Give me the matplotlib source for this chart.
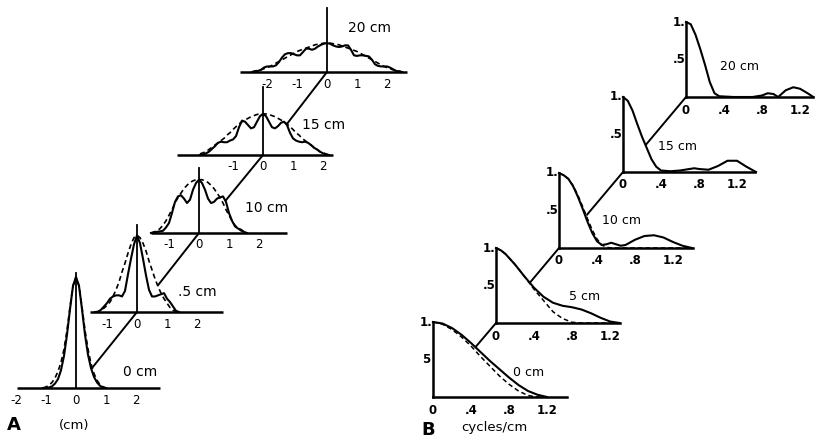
import numpy as np
import matplotlib
matplotlib.use("Agg")
import matplotlib.pyplot as plt
from matplotlib.transforms import offset_copy
from matplotlib.patches import ConnectionPatch

# ---------------- DATA : panel A (line spread, relative intensity vs cm) ----------------
a_names = ["0 cm", ".5 cm", "10 cm", "15 cm", "20 cm"]

a0_x = [-1.1, -1.0, -0.9, -0.8, -0.7, -0.6, -0.5, -0.4, -0.3, -0.2, -0.1, 0.0,
        0.1, 0.2, 0.3, 0.4, 0.5, 0.6, 0.7, 0.8, 0.9, 1.0]
a0_solid = [0, 0, 0.005, 0.015, 0.04, 0.08, 0.16, 0.29, 0.48, 0.71, 0.92, 1.0,
            0.92, 0.71, 0.48, 0.30, 0.18, 0.10, 0.05, 0.02, 0.005, 0]
a0_dash = [0, 0.01, 0.025, 0.05, 0.09, 0.15, 0.23, 0.35, 0.52, 0.73, 0.92, 1.0,
           0.92, 0.73, 0.52, 0.35, 0.22, 0.13, 0.07, 0.03, 0.01, 0]

a1_x = [-1.4, -1.3, -1.2, -1.1, -1.0, -0.9, -0.8, -0.7, -0.6, -0.5, -0.4, -0.3, -0.2, -0.1, 0.0,
        0.1, 0.2, 0.3, 0.4, 0.5, 0.6, 0.7, 0.8, 0.9, 1.0, 1.1, 1.2, 1.3, 1.4]
a1_solid = [0, 0.0, 0.02, 0.05, 0.08, 0.12, 0.14, 0.15, 0.15, 0.14, 0.19, 0.34, 0.48, 0.61, 0.69,
            0.62, 0.48, 0.33, 0.20, 0.14, 0.14, 0.15, 0.16, 0.17, 0.12, 0.09, 0.05, 0.01, 0]
a1_dash = [0, 0.005, 0.02, 0.035, 0.06, 0.09, 0.14, 0.20, 0.27, 0.36, 0.44, 0.53, 0.61, 0.67, 0.69,
           0.67, 0.62, 0.55, 0.46, 0.38, 0.30, 0.23, 0.17, 0.12, 0.08, 0.04, 0.015, 0.005, 0]

a2_x = [-1.6, -1.5, -1.4, -1.3, -1.2, -1.1, -1.0, -0.9, -0.8, -0.7, -0.6, -0.5, -0.4, -0.3, -0.2, -0.1, 0.0,
        0.1, 0.2, 0.3, 0.4, 0.5, 0.6, 0.7, 0.8, 0.9, 1.0, 1.1, 1.2, 1.3, 1.4, 1.5, 1.6]
a2_solid = [0, 0.005, 0.01, 0.015, 0.02, 0.05, 0.09, 0.18, 0.28, 0.33, 0.34, 0.31, 0.27, 0.30, 0.39, 0.45, 0.48,
            0.45, 0.39, 0.31, 0.27, 0.28, 0.31, 0.32, 0.33, 0.28, 0.18, 0.11, 0.06, 0.04, 0.03, 0.01, 0]
a2_dash = [0, 0.01, 0.02, 0.04, 0.07, 0.11, 0.16, 0.21, 0.27, 0.32, 0.36, 0.40, 0.43, 0.455, 0.47, 0.48, 0.48,
           0.48, 0.47, 0.455, 0.43, 0.40, 0.36, 0.32, 0.27, 0.21, 0.16, 0.11, 0.07, 0.04, 0.02, 0.01, 0]

a3_x = [-2.1, -2.0, -1.9, -1.8, -1.7, -1.6, -1.5, -1.4, -1.3, -1.2, -1.1, -1.0, -0.9, -0.8, -0.7, -0.6,
        -0.5, -0.4, -0.3, -0.2, -0.1, 0.0, 0.1, 0.2, 0.3, 0.4, 0.5, 0.6, 0.7, 0.8, 0.9, 1.0, 1.1, 1.2,
        1.3, 1.4, 1.5, 1.6, 1.7, 1.8, 1.9, 2.0, 2.1, 2.2]
a3_solid = [0, 0.005, 0.015, 0.03, 0.055, 0.08, 0.11, 0.12, 0.115, 0.115, 0.13, 0.14, 0.17, 0.25, 0.31, 0.30,
            0.27, 0.24, 0.25, 0.30, 0.35, 0.37, 0.35, 0.30, 0.25, 0.24, 0.26, 0.29, 0.30, 0.27, 0.20, 0.15, 0.13, 0.12,
            0.115, 0.12, 0.11, 0.09, 0.065, 0.05, 0.03, 0.015, 0.005, 0]
a3_dash = [0.01, 0.02, 0.03, 0.05, 0.07, 0.09, 0.11, 0.13, 0.15, 0.18, 0.20, 0.23, 0.255, 0.28, 0.30, 0.315,
           0.33, 0.345, 0.355, 0.365, 0.37, 0.37, 0.37, 0.365, 0.355, 0.345, 0.33, 0.315, 0.30, 0.28, 0.255, 0.23, 0.20, 0.18,
           0.15, 0.13, 0.11, 0.09, 0.07, 0.05, 0.03, 0.02, 0.01, 0]

a4_x = [-2.5, -2.4, -2.3, -2.2, -2.1, -2.0, -1.9, -1.8, -1.7, -1.6, -1.5, -1.4, -1.3, -1.2, -1.1, -1.0, -0.9,
        -0.8, -0.7, -0.6, -0.5, -0.4, -0.3, -0.2, -0.1, 0.0, 0.1, 0.2, 0.3, 0.4, 0.5, 0.6, 0.7, 0.8, 0.9, 1.0,
        1.1, 1.2, 1.3, 1.4, 1.5, 1.6, 1.7, 1.8, 1.9, 2.0, 2.1, 2.2, 2.3, 2.4, 2.5]
a4_solid = [0, 0.005, 0.01, 0.02, 0.04, 0.05, 0.05, 0.05, 0.06, 0.09, 0.13, 0.16, 0.17, 0.17, 0.16, 0.15, 0.15,
            0.18, 0.21, 0.21, 0.20, 0.21, 0.23, 0.245, 0.255, 0.26, 0.255, 0.24, 0.23, 0.225, 0.23, 0.24, 0.24, 0.20,
            0.15, 0.145, 0.15, 0.15, 0.145, 0.14, 0.11, 0.07, 0.055, 0.05, 0.05, 0.05, 0.04, 0.025, 0.01, 0.005, 0]
a4_dash = [0, 0.01, 0.015, 0.02, 0.03, 0.04, 0.05, 0.065, 0.08, 0.095, 0.11, 0.125, 0.14, 0.155, 0.17, 0.185, 0.195,
           0.205, 0.215, 0.225, 0.235, 0.245, 0.25, 0.255, 0.26, 0.26, 0.26, 0.255, 0.25, 0.245, 0.235, 0.225, 0.215, 0.205,
           0.195, 0.185, 0.17, 0.155, 0.14, 0.125, 0.11, 0.095, 0.08, 0.065, 0.05, 0.04, 0.03, 0.02, 0.015, 0.01, 0]

a_ticks = [[-2, -1, 0, 1, 2], [-1, 0, 1, 2], [-1, 0, 1, 2], [-1, 0, 1, 2], [-2, -1, 0, 1, 2]]
a_ticklabels = [["-2", "-1", "0", "1", "2"], ["-1", "0", "1", "2"], ["-1", "0", "1", "2"],
                ["-1", "0", "1", "2"], ["-2", "-1", "0", "1", "2"]]

# ---------------- DATA : panel B (MTF vs cycles/cm) ----------------
b_names = ["0 cm", "5 cm", "10 cm", "15 cm", "20 cm"]

b0_x = [0, 0.1, 0.2, 0.3, 0.4, 0.5, 0.6, 0.7, 0.8, 0.9, 1.0, 1.1, 1.2]
b0_solid = [1.0, 0.98, 0.92, 0.83, 0.72, 0.60, 0.48, 0.37, 0.26, 0.16, 0.08, 0.03, 0.0]
b0_dash = [1.0, 0.97, 0.90, 0.80, 0.68, 0.54, 0.41, 0.28, 0.17, 0.08, 0.02, 0.0, 0.0]

b1_x = [0, 0.05, 0.1, 0.2, 0.3, 0.4, 0.5, 0.6, 0.7, 0.8, 0.9, 1.0, 1.1, 1.2, 1.3]
b1_solid = [1.0, 0.97, 0.92, 0.78, 0.62, 0.47, 0.35, 0.27, 0.23, 0.21, 0.18, 0.13, 0.07, 0.02, 0.0]
b1_dash = [1.0, 0.97, 0.92, 0.78, 0.62, 0.45, 0.30, 0.15, 0.06, 0.01, 0, 0, 0, 0, 0]

b2_x = [0, 0.05, 0.1, 0.15, 0.2, 0.25, 0.3, 0.35, 0.4, 0.45, 0.5, 0.55, 0.6, 0.65, 0.7,
        0.8, 0.9, 1.0, 1.1, 1.2, 1.3, 1.4]
b2_solid = [1.0, 0.97, 0.92, 0.82, 0.68, 0.52, 0.35, 0.20, 0.09, 0.04, 0.05, 0.07, 0.05, 0.03, 0.04,
            0.11, 0.16, 0.17, 0.14, 0.08, 0.03, 0.0]
b2_dash = [1.0, 0.97, 0.92, 0.83, 0.70, 0.55, 0.39, 0.24, 0.12, 0.04, 0.01, 0, 0, 0, 0,
           0, 0, 0, 0, 0, 0, 0]

b3_x = [0, 0.05, 0.1, 0.15, 0.2, 0.25, 0.3, 0.35, 0.4, 0.5, 0.6, 0.7, 0.75, 0.8, 0.9,
        1.0, 1.1, 1.2, 1.3, 1.4]
b3_solid = [1.0, 0.95, 0.82, 0.64, 0.47, 0.32, 0.17, 0.07, 0.02, 0.01, 0.02, 0.04, 0.05, 0.04, 0.03,
            0.08, 0.15, 0.15, 0.07, 0.0]

b4_x = [0, 0.05, 0.1, 0.15, 0.2, 0.25, 0.3, 0.35, 0.5, 0.7, 0.8, 0.86, 0.92, 0.97, 1.05,
        1.13, 1.2, 1.28, 1.34]
b4_solid = [1.0, 0.97, 0.83, 0.64, 0.43, 0.20, 0.05, 0.01, 0.0, 0.0, 0.02, 0.05, 0.04, 0.0, 0.09,
            0.13, 0.11, 0.05, 0.0]

b_ticks = [0, 0.4, 0.8, 1.2]
b_ticklabels = ["0", ".4", ".8", "1.2"]
b_yticks = [1.0, 0.5]
b_yticklabels = [["1.", "5"], ["1.", ".5"], ["1.", ".5"], ["1.", ".5"], ["1.", ".5"]]

# ---------------- LAYOUT (pixels) ----------------
W, H = 816, 441
fig = plt.figure(figsize=(W / 100, H / 100), dpi=100)
plt.rcParams["font.family"] = ["DejaVu Sans"]

A_SX, A_SY = 30.0, 111.0          # px per cm, px per unit intensity
B_SX, B_SY = 95.0, 75.0           # px per cycle/cm, px per unit MTF

a_origin = [(76, 388), (137, 312), (199, 233), (263, 155), (327, 72)]
a_xrange = [(-1.97, 2.8), (-1.57, 2.87), (-1.6, 2.93), (-2.87, 2.33), (-2.9, 2.67)]
a_vtop = [1.04, 0.78, 0.59, 0.61, 0.58]
a_lab_off = [(64, -16), (60, -20), (68, -25), (61, -30), (43, -44)]

b_origin = [(433, 397), (496, 323), (559, 248), (623, 172), (686, 97)]
b_xmax = [1.41, 1.30, 1.41, 1.39, 1.34]
b_lab_off = [(96, -25), (89, -26), (63, -27), (54, -26), (53, -30)]


def make_axes(origin, xr, yr, sx, sy):
    ox, oy = origin
    left = (ox + xr[0] * sx) / W
    width = (xr[1] - xr[0]) * sx / W
    bottom = (H - oy + yr[0] * sy) / H
    height = (yr[1] - yr[0]) * sy / H
    ax = fig.add_axes([left, bottom, width, height])
    ax.set_xlim(xr)
    ax.set_ylim(yr)
    ax.axis("off")
    return ax


LW = 1.5
a_data = [(a0_x, a0_solid, a0_dash), (a1_x, a1_solid, a1_dash), (a2_x, a2_solid, a2_dash),
          (a3_x, a3_solid, a3_dash), (a4_x, a4_solid, a4_dash)]
a_axes = []
for i, (xs, sol, das) in enumerate(a_data):
    ax = make_axes(a_origin[i], a_xrange[i], (0, 1.1), A_SX, A_SY)
    a_axes.append(ax)
    xs = np.asarray(xs); sol = np.asarray(sol); das = np.asarray(das)
    ax.fill_between(xs, 0, np.maximum(sol, das), color="white", zorder=2, lw=0, clip_on=False)
    ax.plot(a_xrange[i], [0, 0], color="black", lw=1.8, zorder=4, clip_on=False,
            solid_capstyle="butt")
    ax.plot([0, 0], [0, a_vtop[i]], color="black", lw=1.3, zorder=4, clip_on=False)
    ax.plot(xs, sol, color="black", lw=LW, zorder=5, clip_on=False)
    ax.plot(xs, das, color="black", lw=1.2, ls=(0, (3, 2)), zorder=5, clip_on=False)
    tr = offset_copy(ax.transData, fig=fig, x=0, y=-12, units="dots")
    for t, lab in zip(a_ticks[i], a_ticklabels[i]):
        ax.text(t, 0, lab, transform=tr, ha="center", va="center", fontsize=8.5, clip_on=False)
    trl = offset_copy(ax.transData, fig=fig, x=a_lab_off[i][0], y=-a_lab_off[i][1], units="dots")
    ax.text(0, 0, a_names[i], transform=trl, ha="center", va="center", fontsize=10)

b_data = [(b0_x, b0_solid, b0_dash), (b1_x, b1_solid, b1_dash), (b2_x, b2_solid, b2_dash),
          (b3_x, b3_solid, None), (b4_x, b4_solid, None)]
b_axes = []
for i, (xs, sol, das) in enumerate(b_data):
    ax = make_axes(b_origin[i], (0, b_xmax[i]), (0, 1.0), B_SX, B_SY)
    b_axes.append(ax)
    xs = np.asarray(xs); sol = np.asarray(sol)
    top = sol if das is None else np.maximum(sol, np.asarray(das))
    ax.fill_between(xs, 0, top, color="white", zorder=2, lw=0, clip_on=False)
    ax.plot([0, b_xmax[i]], [0, 0], color="black", lw=1.8, zorder=4, clip_on=False)
    ax.plot([0, 0], [0, 1.0], color="black", lw=1.8, zorder=4, clip_on=False)
    ax.plot(xs, sol, color="black", lw=LW, zorder=5, clip_on=False)
    if das is not None:
        ax.plot(xs, das, color="black", lw=1.1, ls=(0, (3, 2)), zorder=5, clip_on=False)
    tr = offset_copy(ax.transData, fig=fig, x=0, y=-13, units="dots")
    for t, lab in zip(b_ticks, b_ticklabels):
        ax.text(t, 0, lab, transform=tr, ha="center", va="center", fontsize=8.5,
                fontweight="bold", clip_on=False)
    try_ = offset_copy(ax.transData, fig=fig, x=-7, y=0, units="dots")
    for t, lab in zip(b_yticks, b_yticklabels[i]):
        ax.text(0, t, lab, transform=try_, ha="center", va="center", fontsize=8.5,
                fontweight="bold", clip_on=False)
    trl = offset_copy(ax.transData, fig=fig, x=b_lab_off[i][0], y=-b_lab_off[i][1], units="dots")
    ax.text(0, 0, b_names[i], transform=trl, ha="center", va="center", fontsize=9)

# diagonal connectors between successive origins (hidden behind the lower curve)
for axes_list in (a_axes, b_axes):
    for lo, hi in zip(axes_list[:-1], axes_list[1:]):
        con = ConnectionPatch(xyA=(0, 0), coordsA=lo.transData, xyB=(0, 0), coordsB=hi.transData,
                              color="black", lw=1.4, zorder=1)
        con.set_clip_on(False)
        lo.add_artist(con)

fig.text(14 / W, 1 - 425 / H, "A", fontsize=13, fontweight="bold", ha="center", va="center")
fig.text(74 / W, 1 - 425 / H, "(cm)", fontsize=9.5, ha="center", va="center")
fig.text(428 / W, 1 - 430 / H, "B", fontsize=13, fontweight="bold", ha="center", va="center")
fig.text(494 / W, 1 - 427 / H, "cycles/cm", fontsize=9.5, ha="center", va="center")

fig.savefig("out.png", dpi=100, facecolor="white")
